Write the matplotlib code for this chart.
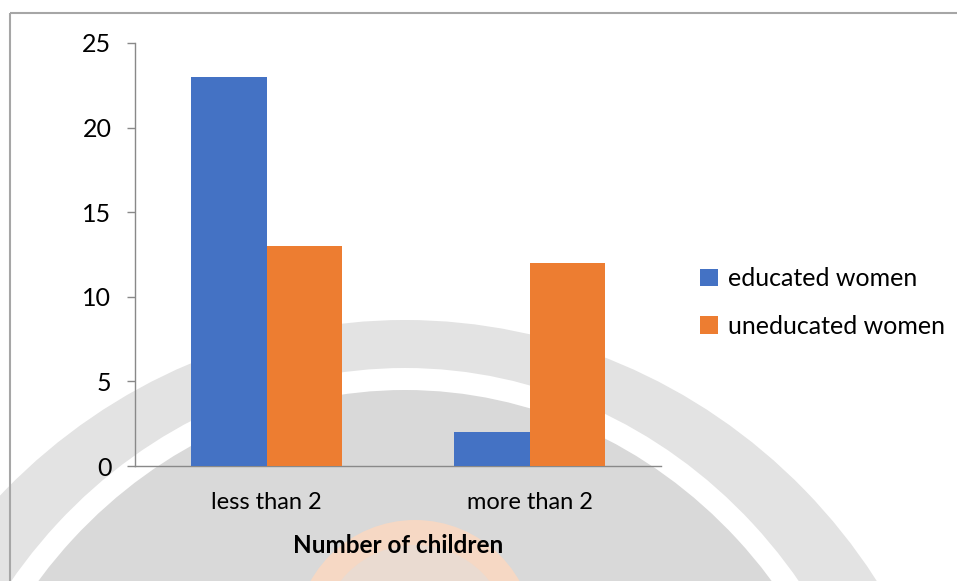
import matplotlib
matplotlib.use("Agg")
import matplotlib.pyplot as plt
from matplotlib.patches import Ellipse, Rectangle, Circle
import numpy as np

categories = ["less than 2", "more than 2"]
series_names = ["educated women", "uneducated women"]
educated = [23, 2]
uneducated = [13, 12]
y_ticks = [0, 5, 10, 15, 20, 25]

BLUE = "#4472C4"
ORANGE = "#ED7D31"
AXIS_GREY = "#898989"

plt.rcParams["font.family"] = ["Lato", "DejaVu Sans"]

W, H = 957, 581
fig = plt.figure(figsize=(W / 100, H / 100), dpi=100)
fig.patch.set_facecolor("white")

# background stamp, laid out in pixel units
bg = fig.add_axes([0, 0, 1, 1], zorder=-5)
bg.set_xlim(0, W)
bg.set_ylim(H, 0)
bg.axis("off")
bg.add_patch(Ellipse((405, 900), 2 * 565, 2 * 580, facecolor="#e3e3e3", edgecolor="none"))
bg.add_patch(Ellipse((405, 900), 2 * 492, 2 * 532, facecolor="white", edgecolor="none"))
bg.add_patch(Ellipse((405, 900), 2 * 470, 2 * 510, facecolor="#d9d9d9", edgecolor="none"))
bg.add_patch(Circle((415, 640), 120, facecolor="#f6d8c4", edgecolor="none"))
bg.add_patch(Circle((415, 640), 95, facecolor="#eadbd1", edgecolor="none"))
# chart frame
bg.add_patch(Rectangle((10, 13), W, H, facecolor="none", edgecolor="#a6a6a6", lw=1.5))

ax = fig.add_axes([135 / W, 1 - 466 / H, 526 / W, 423 / H])
ax.patch.set_alpha(0)

x = np.arange(len(categories))
bw = 0.287
b1 = ax.bar(x - bw / 2, educated, bw, color=BLUE, label=series_names[0], zorder=3)
b2 = ax.bar(x + bw / 2, uneducated, bw, color=ORANGE, label=series_names[1], zorder=3)

ax.set_xlim(-0.5, 1.5)
ax.set_ylim(0, 25)
ax.set_yticks(y_ticks)
ax.set_xticks(x)
ax.set_xticklabels(categories)

for s in ["top", "right"]:
    ax.spines[s].set_visible(False)
for s in ["left", "bottom"]:
    ax.spines[s].set_color(AXIS_GREY)
    ax.spines[s].set_linewidth(1.0)

ax.tick_params(axis="y", length=6, width=1.0, color=AXIS_GREY, pad=11, labelsize=18)
ax.tick_params(axis="x", length=0, pad=19, labelsize=17)

ax.set_xlabel("Number of children", fontsize=17.5, fontweight="bold", labelpad=15)

ax.legend(handles=[b1, b2], loc="upper left", bbox_to_anchor=(700 / W, 1 - 267 / H),
          bbox_transform=fig.transFigure, frameon=False, fontsize=18,
          handlelength=0.7, handleheight=0.7, handletextpad=0.4,
          labelspacing=0.98, borderpad=0, borderaxespad=0)

fig.savefig("out.png", dpi=100)
